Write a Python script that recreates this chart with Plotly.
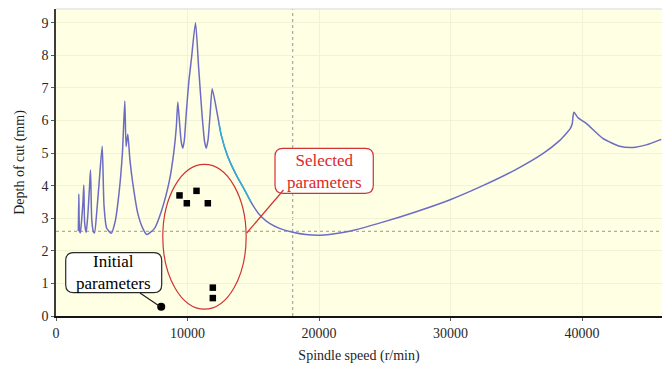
import plotly.graph_objects as go

# ---------------- data ----------------
speed = [1700, 1734, 1790, 1850, 1950, 2050, 2114, 2180, 2297, 2420, 2540, 2624,
         2720, 2850, 2928, 3100, 3300, 3513, 3650, 3850, 4198, 4500, 4800, 5050,
         5232, 5330, 5460, 5620, 5840, 6220, 6600, 6905, 7490, 8000, 8631, 8950,
         9150, 9262, 9400, 9520, 9643, 9760, 9900, 10099, 10300, 10608, 10850,
         11100, 11300, 11422, 11560, 11720, 11878, 12304, 12563, 13066, 13704,
         14335, 14966, 15605, 16236, 16996, 18010, 19000, 20038, 20798, 22319,
         24852, 27389, 29924, 32456, 34996, 37019, 38289, 38800, 39100, 39254,
         39376, 39700, 40319, 41582, 42852, 43863, 44882, 46023]
depth = [2.60, 3.74, 2.62, 2.55, 2.95, 3.50, 4.02, 2.85, 2.57, 3.10, 3.90, 4.48,
         2.95, 2.58, 2.55, 3.20, 4.20, 5.21, 3.40, 2.70, 2.54, 2.90, 3.80, 5.00,
         6.60, 5.20, 5.58, 4.80, 4.07, 3.15, 2.69, 2.50, 2.69, 3.20, 4.17, 5.00,
         5.80, 6.57, 5.90, 5.35, 5.15, 5.40, 6.20, 7.19, 7.90, 9.00, 7.60,
         6.20, 5.35, 5.15, 5.40, 6.20, 6.97, 6.11, 5.55, 4.89, 4.33,
         3.87, 3.40, 3.05, 2.84, 2.69, 2.57, 2.50, 2.48, 2.50, 2.60,
         2.88, 3.20, 3.56, 4.00, 4.50, 4.98, 5.38, 5.60, 5.75, 5.90,
         6.25, 6.08, 5.91, 5.45, 5.21, 5.17, 5.25, 5.42]

cyan_speed = [12400, 12563, 13066, 13704, 14335, 14800]
cyan_depth = [5.90, 5.55, 4.89, 4.33, 3.87, 3.52]

selected_speed = [9392, 9947, 10684, 11544, 11924, 11924]
selected_depth = [3.70, 3.46, 3.84, 3.46, 0.87, 0.55]

initial_speed = [8000]
initial_depth = [0.28]

ref_speed = 18000
ref_depth = 2.6

x_ticks = [0, 10000, 20000, 30000, 40000]
y_ticks = [0, 1, 2, 3, 4, 5, 6, 7, 8, 9]

# ---------------- layout geometry ----------------
W_FIG, H_FIG = 670, 366
L, R, T, B = 56, 8, 9, 50
PW, PH = W_FIG - L - R, H_FIG - T - B
FONT = "Liberation Serif"


def px(xp):
    return (xp - L) / PW


def py(yp):
    return (H_FIG - B - yp) / PH


def rounded_box(x0, y0, x1, y1, r):
    pts = [
        ("M", [(x0 + r, y0)]), ("L", [(x1 - r, y0)]), ("Q", [(x1, y0), (x1, y0 + r)]),
        ("L", [(x1, y1 - r)]), ("Q", [(x1, y1), (x1 - r, y1)]),
        ("L", [(x0 + r, y1)]), ("Q", [(x0, y1), (x0, y1 - r)]),
        ("L", [(x0, y0 + r)]), ("Q", [(x0, y0), (x0 + r, y0)]),
    ]
    s = ""
    for cmd, cs in pts:
        s += cmd + " " + " ".join(f"{px(a):.5f},{py(b):.5f}" for a, b in cs) + " "
    return s + "Z"


fig = go.Figure()

fig.add_trace(go.Scatter(x=speed, y=depth, mode="lines",
                         line=dict(color="rgb(108,108,196)", width=1.5, shape="spline", smoothing=0.6),
                         hoverinfo="skip", showlegend=False))
fig.add_trace(go.Scatter(x=cyan_speed, y=cyan_depth, mode="lines",
                         line=dict(color="rgb(40,180,215)", width=1.4, shape="spline", smoothing=0.6),
                         hoverinfo="skip", showlegend=False))
fig.add_trace(go.Scatter(x=selected_speed, y=selected_depth, mode="markers",
                         marker=dict(symbol="square", size=6.5, color="black"),
                         showlegend=False))
fig.add_trace(go.Scatter(x=initial_speed, y=initial_depth, mode="markers",
                         marker=dict(symbol="circle", size=8, color="black"),
                         showlegend=False))

shapes = []
shapes.append(dict(type="line", xref="x", yref="paper", x0=ref_speed, x1=ref_speed, y0=0, y1=1,
                   line=dict(color="rgb(150,150,150)", width=1, dash="dot"), layer="below"))
shapes.append(dict(type="line", xref="paper", yref="y", x0=0, x1=1, y0=ref_depth, y1=ref_depth,
                   line=dict(color="rgb(150,150,150)", width=1, dash="dot"), layer="below"))
shapes.append(dict(type="line", xref="paper", yref="paper", x0=0, x1=1, y0=1, y1=1,
                   line=dict(color="rgb(215,215,215)", width=1)))
shapes.append(dict(type="circle", xref="x", yref="y", x0=8120, x1=14460, y0=0.21, y1=4.65,
                   line=dict(color="rgb(210,50,50)", width=1.2)))
shapes.append(dict(type="path", xref="paper", yref="paper",
                   path=rounded_box(65.7, 252.7, 161.7, 292.7, 8),
                   fillcolor="white", line=dict(color="rgb(40,40,40)", width=1.2)))
shapes.append(dict(type="path", xref="paper", yref="paper",
                   path=rounded_box(275, 148.3, 373.3, 193.3, 8),
                   fillcolor="white", line=dict(color="rgb(210,50,50)", width=1.2)))
shapes.append(dict(type="line", xref="paper", yref="paper", x0=px(140), y0=py(293),
                   x1=px(160), y1=py(306.5), line=dict(color="rgb(30,30,30)", width=1.2)))
shapes.append(dict(type="line", xref="paper", yref="paper", x0=px(283.5), y0=py(190),
                   x1=px(246.7), y1=py(233), line=dict(color="rgb(210,50,50)", width=1.2)))

annotations = [
    dict(xref="paper", yref="paper", x=px(113.7), y=py(272.7), text="Initial<br>parameters",
         showarrow=False, xanchor="center", yanchor="middle",
         font=dict(family=FONT, size=17, color="black")),
    dict(xref="paper", yref="paper", x=px(324.2), y=py(171), text="Selected<br>parameters",
         showarrow=False, xanchor="center", yanchor="middle",
         font=dict(family=FONT, size=17, color="rgb(220,40,40)")),
]

fig.update_layout(
    width=W_FIG, height=H_FIG,
    margin=dict(l=L, r=R, t=T, b=B, autoexpand=False),
    paper_bgcolor="white",
    plot_bgcolor="rgb(255,255,228)",
    font=dict(family=FONT, size=14, color="rgb(40,40,40)"),
    shapes=shapes,
    annotations=annotations,
    xaxis=dict(range=[0, 46080], tickvals=x_ticks, ticktext=[str(v) for v in x_ticks],
               showgrid=True, gridcolor="rgb(242,242,212)", gridwidth=1, zeroline=False,
               showline=True, linecolor="rgb(20,20,20)", linewidth=1.5,
               ticks="outside", ticklen=3, tickcolor="rgb(90,90,90)", automargin=False,
               title=dict(text="Spindle speed (r/min)", standoff=11,
                          font=dict(family=FONT, size=14, color="rgb(30,30,30)"))),
    yaxis=dict(range=[0, 9.42], tickvals=y_ticks,
               showgrid=True, gridcolor="rgb(242,242,212)", gridwidth=1, zeroline=False,
               showline=True, linecolor="rgb(60,60,60)", linewidth=1.5,
               ticks="outside", ticklen=3, tickcolor="rgb(90,90,90)", automargin=False,
               title=dict(text="Depth of cut (mm)", standoff=14,
                          font=dict(family=FONT, size=14, color="rgb(30,30,30)"))),
)

fig.write_html("out.html", config={"displayModeBar": False},
               post_script="document.body.style.margin='0';document.body.style.padding='0';")
